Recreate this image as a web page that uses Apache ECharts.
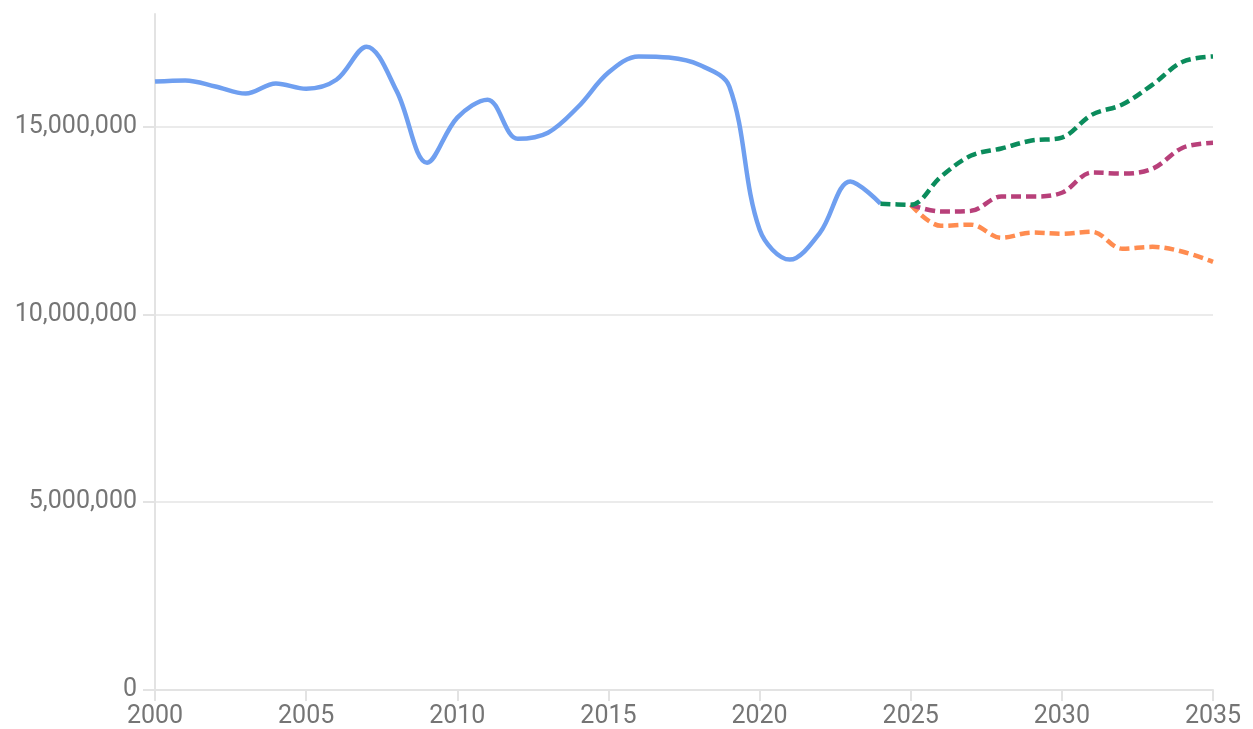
<!DOCTYPE html>
<html>
<head>
<meta charset="utf-8">
<script src="https://cdn.jsdelivr.net/npm/echarts@6/dist/echarts.min.js"></script>
<style>
html,body{margin:0;padding:0;background:#fff;}
#chart{width:1253px;height:729px;}
</style>
</head>
<body>
<div id="chart"></div>
<script>
const historicalYears = [2000,2001,2002,2003,2004,2005,2006,2007,2008,2009,2010,2011,2012,2013,2014,2015,2016,2017,2018,2019,2020,2021,2022,2023,2024];
const historicalValues = [16200000,16230000,16070000,15880000,16150000,16010000,16250000,17130000,15940000,14040000,15240000,15720000,14680000,14840000,15530000,16440000,16870000,16840000,16650000,16070000,12260000,11460000,12180000,13540000,12950000];
const highYears = [2024,2025,2026,2027,2028,2029,2030,2031,2032,2033,2034,2035];
const highValues = [12950000,12920000,13670000,14230000,14420000,14630000,14710000,15320000,15590000,16120000,16730000,16870000];
const midYears = [2025,2026,2027,2028,2029,2030,2031,2032,2033,2034,2035];
const midValues = [12920000,12740000,12760000,13140000,13140000,13240000,13780000,13750000,13880000,14440000,14570000];
const lowYears = [2025,2026,2027,2028,2029,2030,2031,2032,2033,2034,2035];
const lowValues = [12920000,12360000,12390000,12040000,12180000,12150000,12200000,11750000,11800000,11670000,11400000];
const yTickValues = [0,5000000,10000000,15000000];

function pairs(xs, ys){ return xs.map((x,i)=>[x, ys[i]]); }

const chart = echarts.init(document.getElementById('chart'), null, {renderer:'canvas'});
const fontFam = 'Roboto, sans-serif';
const dashed = (name, xs, ys, color) => ({
  name, type:'line', data: pairs(xs, ys), smooth:0.35, showSymbol:false, symbol:'none',
  lineStyle:{color, width:4.5, type:[10,5], cap:'butt'}, z:3
});
chart.setOption({
  animation:false,
  backgroundColor:'#ffffff',
  grid:{left:155, right:40, top:14, bottom:39, containLabel:false},
  xAxis:{
    type:'value', min:2000, max:2035, interval:5,
    axisLine:{show:true, lineStyle:{color:'#e3e3e3', width:2}},
    axisTick:{show:true, length:11, lineStyle:{color:'#e3e3e3', width:2}},
    axisLabel:{color:'#757575', fontSize:25, fontFamily:fontFam, margin:14, formatter:v=>String(v)},
    splitLine:{show:false}
  },
  yAxis:{
    type:'value', min:0, max:18000000,
    axisLine:{show:true, lineStyle:{color:'#e3e3e3', width:2}},
    axisTick:{show:true, length:12, lineStyle:{color:'#e3e3e3', width:2}, customValues:yTickValues},
    axisLabel:{color:'#757575', fontSize:25, fontFamily:fontFam, margin:18, customValues:yTickValues,
      formatter:v=>v.toLocaleString('en-US')},
    splitLine:{show:true, lineStyle:{color:'#ebebeb', width:2}}
  },
  series:[
    {name:'Historical', type:'line', data:pairs(historicalYears, historicalValues), smooth:0.35, showSymbol:false, symbol:'none',
      lineStyle:{color:'#6f9ff0', width:4.5}, z:2},
    dashed('Low', lowYears, lowValues, '#ff8c50'),
    dashed('Mid', midYears, midValues, '#b8407a'),
    dashed('High', highYears, highValues, '#0b8c5c')
  ]
});
</script>
</body>
</html>
